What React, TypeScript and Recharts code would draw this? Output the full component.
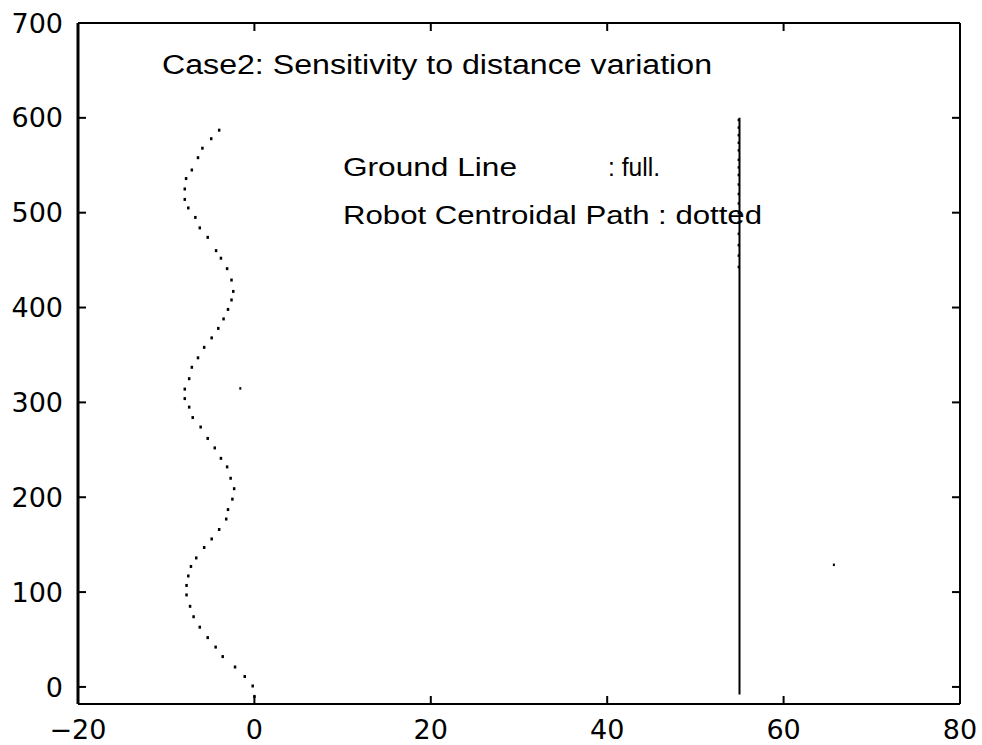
import { ScatterChart, Scatter, XAxis, YAxis, Customized } from "recharts";

// robot centroidal path (dotted)
const pathX = [
  0, -0.2, -1.1, -2.2, -3.6, -4.4, -5.3, -6.2, -6.9, -7.3, -7.7, -7.7, -7.5, -7.2, -6.6, -5.7,
  -4.85, -4.0, -3.2, -3.0, -2.5, -2.3, -2.7, -3.1, -3.8, -4.5, -5.3, -6.1, -7.0, -7.4, -7.9, -7.9,
  -7.4, -7.1, -6.4, -5.7, -4.85, -4.1, -3.5, -3.0, -2.6, -2.4, -2.6, -3.1, -3.8, -4.35, -5.3, -6.2,
  -6.7, -7.5, -7.9, -7.9, -7.75, -7.1, -6.4, -5.9, -4.9, -4.0,
];
const pathY = [
  -10, 1, 11, 21, 32, 42, 52, 63, 74, 85, 97, 107, 117, 127, 136, 147,
  156, 166, 177, 187, 198, 209, 220, 232, 241, 252, 262, 274, 284, 295, 304, 314,
  325, 337, 347, 358, 368, 378, 388, 398, 408, 417, 429, 441, 452, 460, 474, 484,
  495, 505, 514, 525, 536, 545, 558, 568, 578, 587,
];

// ground line (full)
const groundX = [55, 55];
const groundY = [-8, 600];

// dotted marks sitting on the ground line near its top
const groundDotY = [598, 590, 582, 574, 566, 556, 548, 540, 530, 520, 510, 500, 490, 478, 466, 455, 443];
const groundDotX = 54.9;

// stray specks
const speckX = [-1.6, 65.7];
const speckY = [315, 129];

const xTicks = [-20, 0, 20, 40, 60, 80];
const yTicks = [0, 100, 200, 300, 400, 500, 600, 700];
const xDomain: [number, number] = [-20, 80];
const yDomain: [number, number] = [-18, 700];

const pathData = pathX.map((x, i) => ({ x, y: pathY[i] }));
const groundData = groundX.map((x, i) => ({ x, y: groundY[i] }));
const groundDots = groundDotY.map((y) => ({ x: groundDotX, y }));
const specks = speckX.map((x, i) => ({ x, y: speckY[i] }));

const FONT = "'Liberation Sans', Arial, sans-serif";
const TICK_FONT = "'DejaVu Sans', sans-serif";

const Dot = (p: any) => <rect x={p.cx - 1.2} y={p.cy - 1.5} width={2.5} height={3} fill="#000" />;
const SmallDot = (p: any) => <rect x={p.cx - 1} y={p.cy - 1} width={2} height={2.5} fill="#000" />;
const NoShape = () => <g />;
const NoTick = () => <g />;

const Notes = () => (
  <g fontFamily={FONT} fill="#000">
    <text x={162} y={74} fontSize={27} textLength={550} lengthAdjust="spacingAndGlyphs">
      Case2: Sensitivity to distance variation
    </text>
    <text x={343} y={176} fontSize={26} textLength={174} lengthAdjust="spacingAndGlyphs">
      Ground Line
    </text>
    <text x={608} y={176} fontSize={26} textLength={52} lengthAdjust="spacingAndGlyphs">
      : full.
    </text>
    <text x={343} y={224} fontSize={26} textLength={419} lengthAdjust="spacingAndGlyphs">
      Robot Centroidal Path : dotted
    </text>
  </g>
);

const minus = (v: number) => String(v).replace("-", "\u2212");

export default function App() {
  const line = { stroke: "#000", strokeWidth: 2 };
  return (
    <div style={{ position: "absolute", left: 0, top: 0, background: "#fff" }}>
      <ScatterChart width={982} height={745} margin={{ top: 23, right: 22, left: 0, bottom: 0 }}>
        {/* labels */}
        <XAxis
          xAxisId="b"
          type="number"
          dataKey="x"
          domain={xDomain}
          ticks={xTicks}
          interval={0}
          height={41}
          tickLine={false}
          tickSize={0}
          tickMargin={16}
          axisLine={line}
          tick={{ fill: "#000", fontSize: 27, fontFamily: TICK_FONT }}
          tickFormatter={minus}
          allowDataOverflow
        />
        <YAxis
          yAxisId="l"
          type="number"
          dataKey="y"
          domain={yDomain}
          ticks={yTicks}
          interval={0}
          width={78}
          tickLine={false}
          tickSize={0}
          tickMargin={15}
          axisLine={{ stroke: "#000", strokeWidth: 3 }}
          tick={{ fill: "#000", fontSize: 27, fontFamily: TICK_FONT }}
          allowDataOverflow
        />
        {/* inward tick marks on all four sides */}
        <XAxis
          xAxisId="bt"
          type="number"
          dataKey="x"
          domain={xDomain}
          ticks={xTicks}
          interval={0}
          mirror
          height={1}
          tickSize={8}
          tick={NoTick}
          axisLine={false}
          tickLine={line}
          allowDataOverflow
        />
        <YAxis
          yAxisId="lt"
          type="number"
          dataKey="y"
          domain={yDomain}
          ticks={yTicks}
          interval={0}
          mirror
          width={1}
          tickSize={8}
          tick={NoTick}
          axisLine={false}
          tickLine={line}
          allowDataOverflow
        />
        <XAxis
          xAxisId="t"
          type="number"
          dataKey="x"
          orientation="top"
          domain={xDomain}
          ticks={xTicks}
          interval={0}
          mirror
          height={1}
          tickSize={8}
          tick={NoTick}
          axisLine={line}
          tickLine={line}
          allowDataOverflow
        />
        <YAxis
          yAxisId="r"
          type="number"
          dataKey="y"
          orientation="right"
          domain={yDomain}
          ticks={yTicks}
          interval={0}
          mirror
          width={1}
          tickSize={8}
          tick={NoTick}
          axisLine={line}
          tickLine={line}
          allowDataOverflow
        />
        <Scatter
          xAxisId="b"
          yAxisId="l"
          data={groundData}
          line={{ stroke: "#000", strokeWidth: 2 }}
          shape={NoShape}
          isAnimationActive={false}
        />
        <Scatter xAxisId="bt" yAxisId="lt" data={groundDots} shape={SmallDot} isAnimationActive={false} />
        <Scatter xAxisId="b" yAxisId="l" data={pathData} shape={Dot} isAnimationActive={false} />
        <Scatter xAxisId="t" yAxisId="r" data={specks} shape={SmallDot} isAnimationActive={false} />
        <Customized component={Notes} />
      </ScatterChart>
    </div>
  );
}
